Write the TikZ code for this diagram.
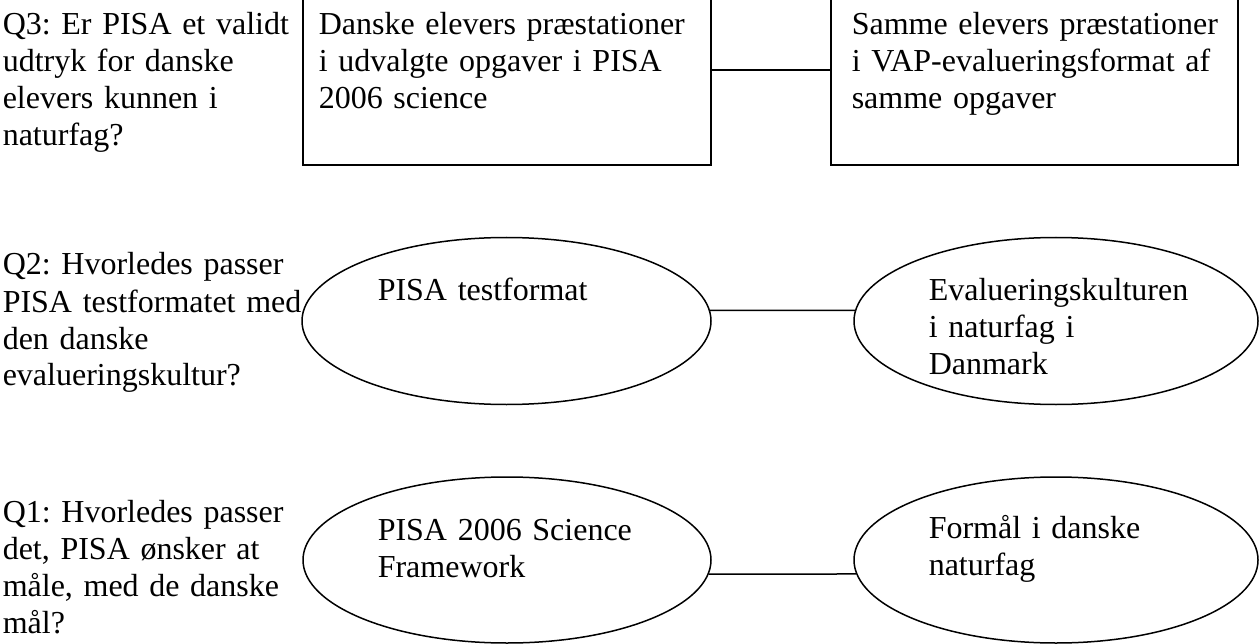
\documentclass[tikz,border=0pt]{standalone}
\usepackage{fontspec}
\setmainfont{Liberation Serif}
\frenchspacing
\usetikzlibrary{shapes.geometric}
\tikzset{boks/.style={draw,rectangle,minimum width=408pt,minimum height=190pt,inner sep=0pt},
  oval/.style={draw,ellipse,minimum height=167pt,inner sep=0pt},
  tekst/.style={anchor=base west,inner sep=0pt,text width=420pt,align=left,font=\fontsize{32}{37}\selectfont}}

\begin{document}
\begin{tikzpicture}[x=1pt,y=-1pt,line width=1.5pt]
  \useasboundingbox (0,0) rectangle (1260,644);
  \clip (0,0) rectangle (1260,644);
  % Q3
  \node[tekst] (q3) at (2,35) {Q3: Er PISA et validt\\udtryk for danske\\elevers kunnen i\\naturfag?};
  \node[boks] (b1) at (507,70) {};
  \node[boks,minimum width=407pt] (b2) at (1034.5,70) {};
  \node[tekst] (b1t) at (318,35) {Danske elevers præstationer\\i udvalgte opgaver i PISA\\2006 science};
  \node[tekst] (b2t) at (851,35) {Samme elevers præstationer\\i VAP-evalueringsformat af\\samme opgaver};
  \draw (b1.east) -- (b2.west);
  % Q2
  \node[tekst] (q2) at (2,275) {Q2: Hvorledes passer\\PISA testformatet med\\den danske\\evalueringskultur?};
  \node[oval,minimum width=409pt] (e1) at (506.5,321) {};
  \node[oval,minimum width=404pt] (e2) at (1056,321) {};
  \node[tekst] (e1t) at (377,300) {PISA testformat};
  \node[tekst] (e2t) at (928,300) {Evalueringskulturen\\i naturfag i\\Danmark};
  \draw (e1.3) -- (e2.177);
  % Q1
  \node[tekst] (q1) at (2,522) {Q1: Hvorledes passer\\det, PISA ønsker at\\måle, med de danske\\mål?};
  \node[oval,minimum width=408pt,minimum height=166pt] (e3) at (507,560) {};
  \node[oval,minimum width=404pt,minimum height=166pt] (e4) at (1056,560) {};
  \node[tekst] (e3t) at (377,540) {PISA 2006 Science\\Framework};
  \node[tekst] (e4t) at (928,538) {Formål i danske\\naturfag};
  \draw (e3.-4) -- (e4.184);
\end{tikzpicture}
\end{document}
